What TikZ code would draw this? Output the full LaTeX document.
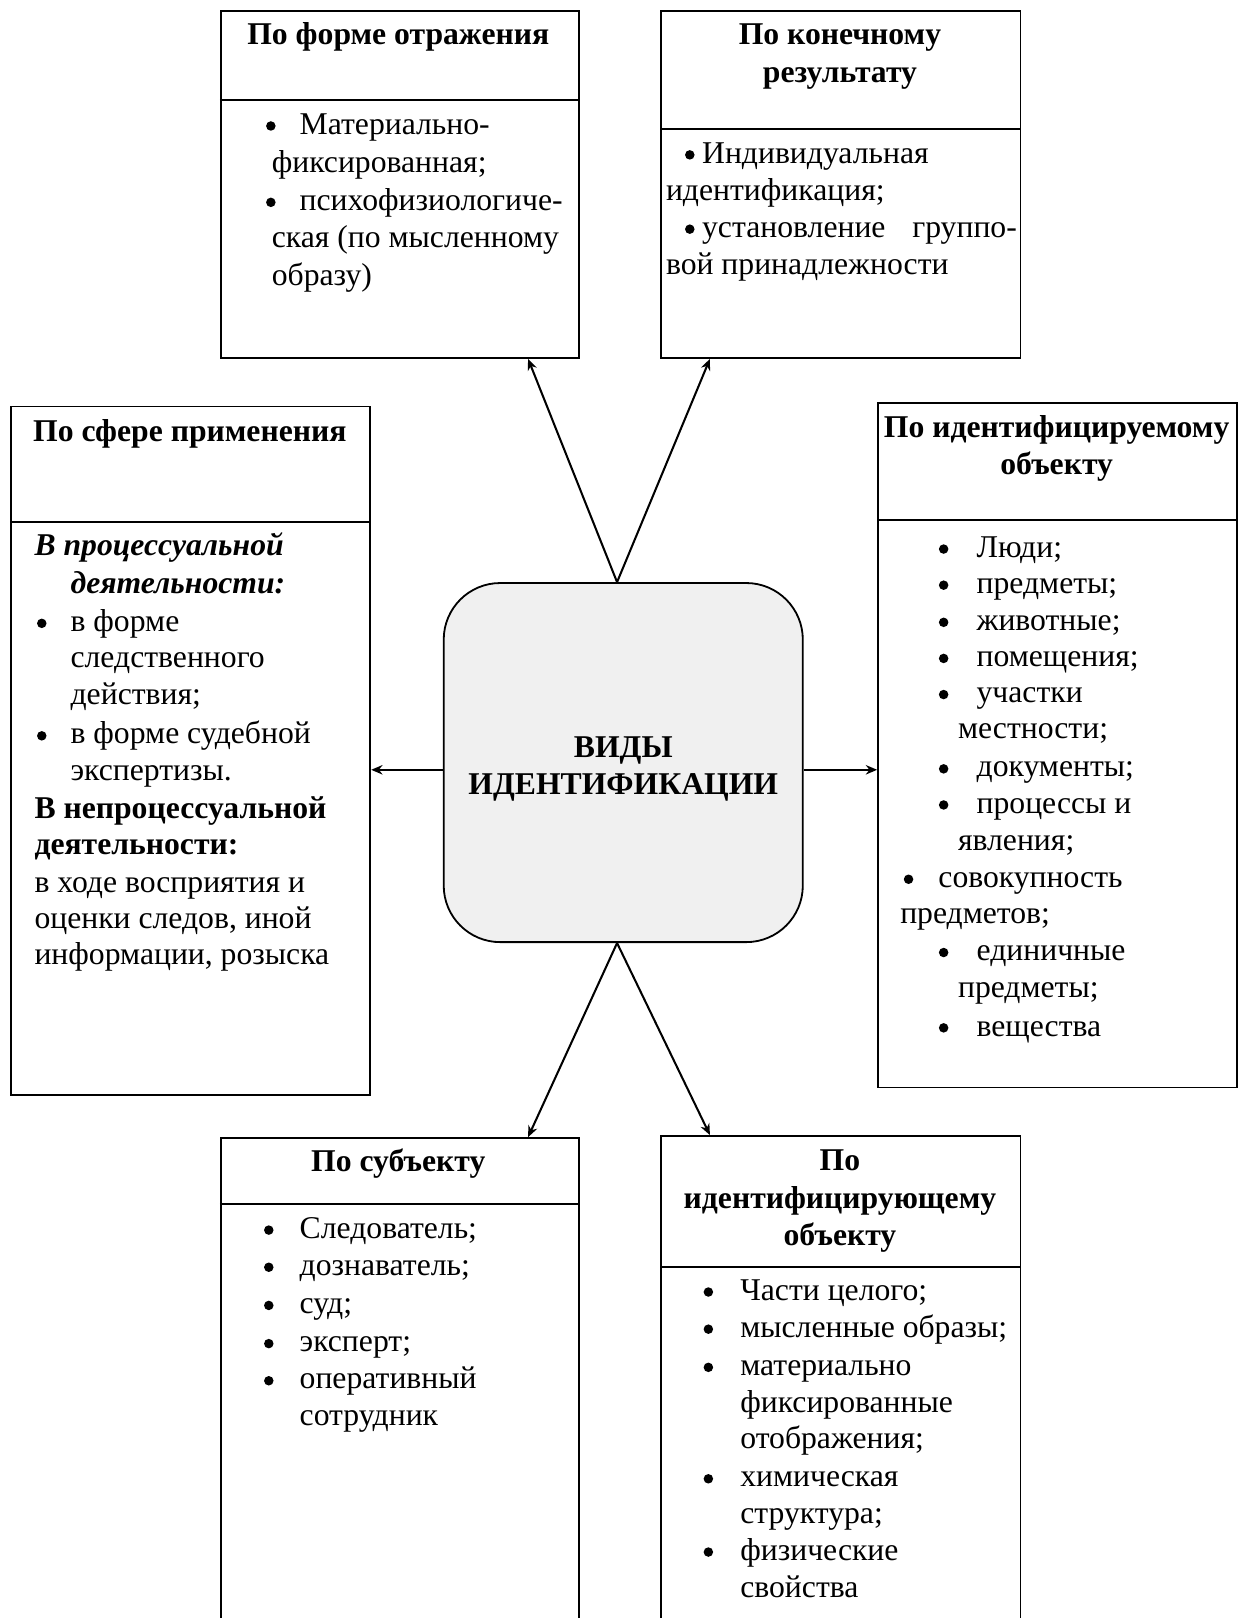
\documentclass[tikz,border=0pt]{standalone}
\usepackage{fontspec}
\setmainfont{Liberation Serif}
\usetikzlibrary{arrows.meta}
\def\ux{0.456pt}
\newdimen\uxd \uxd=0.456pt
\newcommand\bul[1]{\makebox[#1\uxd][l]{\tikz[baseline=0pt]{\path (0pt,0pt); \fill (2.3pt,3.6pt) circle (2.1pt);}}}
\definecolor{cfill}{HTML}{F0F0F0}
\tikzset{
  box/.style={draw, line width=0.8pt, anchor=north west, inner sep=0pt},
  divider/.style={line width=0.8pt},
  hd/.style={anchor=base, inner sep=0pt, yshift=-0.9pt, font=\fontsize{14}{16}\selectfont\bfseries},
  ln/.style={anchor=base west, inner sep=0pt, yshift=-0.9pt, font=\fontsize{14}{16}\selectfont},
  conn/.style={line width=0.9pt, -{Stealth[length=5pt,width=4.2pt]}},
}
\begin{document}
\begin{tikzpicture}[x=0.456pt, y=-0.456pt]
\useasboundingbox (0,0) rectangle (1202,1568);
\clip (0,0) rectangle (1202,1568);
\fill[white] (0,0) rectangle (1202,1568);

% boxes
\node[box, minimum width=347*\ux, minimum height=336*\ux] (tl) at (213,10) {};
\node[box, minimum width=348*\ux, minimum height=336*\ux] (tr) at (640,10) {};
\node[box, minimum width=348*\ux, minimum height=667*\ux] (ll) at (10,393) {};
\node[box, minimum width=348*\ux, minimum height=663*\ux] (rr) at (850,390) {};
\node[box, minimum width=347*\ux, minimum height=475*\ux] (bl) at (213,1102) {};
\node[box, minimum width=348*\ux, minimum height=477*\ux] (br) at (640,1100) {};
\node[draw, line width=0.8pt, fill=cfill, rounded corners=25pt, inner sep=0pt,
      minimum width=348*\ux, minimum height=348*\ux] (c) at (604,739) {};

% dividers
\draw[divider] (tl.west |- 0,97) -- (tl.east |- 0,97);
\draw[divider] (tr.west |- 0,125) -- (tr.east |- 0,125);
\draw[divider] (ll.west |- 0,506) -- (ll.east |- 0,506);
\draw[divider] (rr.west |- 0,504) -- (rr.east |- 0,504);
\draw[divider] (bl.west |- 0,1167) -- (bl.east |- 0,1167);
\draw[divider] (br.west |- 0,1228) -- (br.east |- 0,1228);

% connectors
\draw[conn] ([xshift=-6*\ux]c.north) -- ([xshift=-50*\ux]tl.south east);
\draw[conn] ([xshift=-6*\ux]c.north) -- ([xshift=48*\ux]tr.south west);
\draw[conn] ([xshift=-6*\ux]c.south) -- ([xshift=-50*\ux]bl.north east);
\draw[conn] ([xshift=-6*\ux]c.south) -- ([xshift=48*\ux]br.north west);
\draw[conn] ([yshift=-7*\ux]c.west) -- ([yshift=-7*\ux]c.west -| ll.east);
\draw[conn] ([yshift=-7*\ux]c.east) -- ([yshift=-7*\ux]c.east -| rr.west);

% center text
\node[hd] (c1) at (604,732) {ВИДЫ};
\node[hd] (c2) at (604,768) {ИДЕНТИФИКАЦИИ};

% top left
\node[hd] (tlh) at (386,41) {По форме отражения};
\node[ln] (tl1) at (257,128) {\bul{33}Материально-};
\node[ln] (tl2) at (263,165) {фиксированная;};
\node[ln] (tl3) at (257,202) {\bul{33}психофизиологиче-};
\node[ln] (tl4) at (263,238) {ская (по мысленному};
\node[ln] (tl5) at (263,275) {образу)};

% top right
\node[hd] (trh1) at (814,41) {По конечному};
\node[hd] (trh2) at (814,78) {результату};
\node[ln] (tr1) at (663,156) {\bul{17}Индивидуальная};
\node[ln] (tr2) at (645,192) {идентификация;};
\node[ln] (tr3) at (663,228) {\bul{17}\makebox[305\uxd][l]{установление\hfill группо-}};
\node[ln] (tr4) at (645,264) {вой принадлежности};

% left
\node[hd] (llh) at (184,426) {По сфере применения};
\node[ln] (l1) at (33,536) {\bfseries\itshape В процессуальной};
\node[ln] (l2) at (68,573) {\bfseries\itshape деятельности:};
\node[ln] (l3) at (35,610) {\bul{33}в форме};
\node[ln] (l4) at (68,645) {следственного};
\node[ln] (l5) at (68,681) {действия;};
\node[ln] (l6) at (35,719) {\bul{33}в форме судебной};
\node[ln] (l7) at (68,754) {экспертизы.};
\node[ln] (l8) at (33,791) {\bfseries В непроцессуальной};
\node[ln] (l9) at (33,826) {\bfseries деятельности:};
\node[ln] (l10) at (33,863) {в ходе восприятия и};
\node[ln] (l11) at (33,898) {оценки следов, иной};
\node[ln] (l12) at (33,933) {информации, розыска};

% right
\node[hd] (rrh1) at (1024,422) {По идентифицируемому};
\node[hd] (rrh2) at (1024,458) {объекту};
\node[ln] (r1) at (909,538) {\bul{37}Люди;};
\node[ln] (r2) at (909,573) {\bul{37}предметы;};
\node[ln] (r3) at (909,609) {\bul{37}животные;};
\node[ln] (r4) at (909,644) {\bul{37}помещения;};
\node[ln] (r5) at (909,679) {\bul{37}участки};
\node[ln] (r6) at (928,714) {местности;};
\node[ln] (r7) at (909,751) {\bul{37}документы;};
\node[ln] (r8) at (909,786) {\bul{37}процессы и};
\node[ln] (r9) at (928,822) {явления;};
\node[ln] (r10) at (875,858) {\bul{34}совокупность};
\node[ln] (r11) at (872,893) {предметов;};
\node[ln] (r12) at (909,929) {\bul{37}единичные};
\node[ln] (r13) at (928,965) {предметы;};
\node[ln] (r14) at (909,1002) {\bul{37}вещества};

% bottom left
\node[hd] (blh) at (386,1133) {По субъекту};
\node[ln] (b1) at (255,1198) {\bul{35}Следователь;};
\node[ln] (b2) at (255,1234) {\bul{35}дознаватель;};
\node[ln] (b3) at (255,1271) {\bul{35}суд;};
\node[ln] (b4) at (255,1308) {\bul{35}эксперт;};
\node[ln] (b5) at (255,1344) {\bul{35}оперативный};
\node[ln] (b6) at (290,1379) {сотрудник};

% bottom right
\node[hd] (brh1) at (814,1132) {По};
\node[hd] (brh2) at (814,1169) {идентифицирующему};
\node[hd] (brh3) at (814,1205) {объекту};
\node[ln] (e1) at (681,1258) {\bul{36}Части целого;};
\node[ln] (e2) at (681,1294) {\bul{36}мысленные образы;};
\node[ln] (e3) at (681,1331) {\bul{36}материально};
\node[ln] (e4) at (717,1367) {фиксированные};
\node[ln] (e5) at (717,1402) {отображения;};
\node[ln] (e6) at (681,1439) {\bul{36}химическая};
\node[ln] (e7) at (717,1474) {структура;};
\node[ln] (e8) at (681,1510) {\bul{36}физические};
\node[ln] (e9) at (717,1546) {свойства};
\end{tikzpicture}
\end{document}
